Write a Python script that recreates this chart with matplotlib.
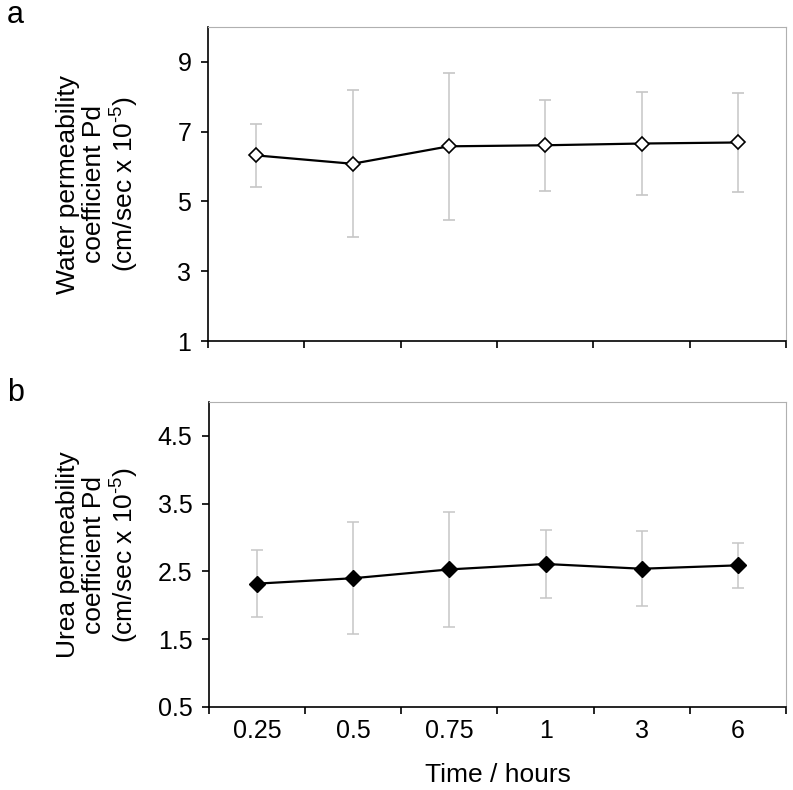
import matplotlib
matplotlib.use("Agg")
import matplotlib.pyplot as plt
import numpy as np

plt.rcParams['font.family'] = ['Liberation Sans', 'DejaVu Sans']
plt.rcParams['mathtext.fontset'] = 'custom'
plt.rcParams['mathtext.rm'] = 'Liberation Sans'
plt.rcParams['mathtext.it'] = 'Liberation Sans'

time_labels = ["0.25", "0.5", "0.75", "1", "3", "6"]
water_pd = [6.32, 6.08, 6.58, 6.61, 6.66, 6.69]
water_err = [0.90, 2.10, 2.10, 1.31, 1.48, 1.41]
urea_pd = [2.32, 2.40, 2.53, 2.61, 2.54, 2.59]
urea_err = [0.49, 0.83, 0.85, 0.50, 0.55, 0.33]

fig = plt.figure(figsize=(7.93, 7.90), dpi=100)
W, H = 793, 790
ax1 = fig.add_axes([208 / W, 1 - 341 / H, (786 - 208) / W, (341 - 27) / H])
ax2 = fig.add_axes([209 / W, 1 - 707 / H, (786 - 209) / W, (707 - 402) / H])

x = np.arange(len(time_labels))


def style_axis(ax):
    ax.set_xlim(-0.5, len(time_labels) - 0.5)
    ax.spines['top'].set_color('#b0b0b0')
    ax.spines['right'].set_color('#b0b0b0')
    ax.spines['left'].set_color('black')
    ax.spines['bottom'].set_color('black')
    ax.spines['left'].set_linewidth(1.2)
    ax.spines['bottom'].set_linewidth(1.2)
    # tick marks sit between categories, labels at category centers
    ax.set_xticks(np.arange(-0.5, len(time_labels)), minor=True)
    ax.set_xticks(x)
    ax.tick_params(axis='x', which='major', length=0, labelsize=18, pad=9)
    ax.tick_params(axis='x', which='minor', length=5, width=1.2, direction='out')
    ax.tick_params(axis='y', length=5, width=1.2, direction='out', labelsize=18, pad=7)


ax1.errorbar(x, water_pd, yerr=water_err, color='black', lw=1.6,
             marker='D', ms=7, mfc='white', mec='black', mew=1.2,
             ecolor='#c6c6c6', elinewidth=1.1, capsize=4, capthick=1.1)
ax1.set_ylim(1, 10)
ax1.set_yticks([1, 3, 5, 7, 9])
style_axis(ax1)
ax1.set_xticklabels([])
ax1.set_ylabel("Water permeability\ncoefficient Pd\n(cm/sec x 10$^{\\text{-5}}$)",
               fontsize=19, linespacing=1.12)
ax1.yaxis.set_label_coords((141 - 208) / 578, 0.5)

ax2.errorbar(x, urea_pd, yerr=urea_err, color='black', lw=1.6,
             marker='D', ms=8, mfc='black', mec='black',
             ecolor='#c6c6c6', elinewidth=1.1, capsize=4, capthick=1.1)
ax2.set_ylim(0.5, 5)
ax2.set_yticks([0.5, 1.5, 2.5, 3.5, 4.5])
ax2.set_yticklabels(["0.5", "1.5", "2.5", "3.5", "4.5"])
style_axis(ax2)
ax2.set_xticklabels(time_labels)
ax2.set_ylabel("Urea permeability\ncoefficient Pd\n(cm/sec x 10$^{\\text{-5}}$)",
               fontsize=19, linespacing=1.12)
ax2.yaxis.set_label_coords((141 - 209) / 577, 0.5)
ax2.set_xlabel("Time / hours", fontsize=19, labelpad=14)

fig.text(7 / W, 1 - 23 / H, "a", fontsize=22, va='baseline')
fig.text(7 / W, 1 - 401 / H, "b", fontsize=22, va='baseline')

fig.savefig("out.png", dpi=100)
